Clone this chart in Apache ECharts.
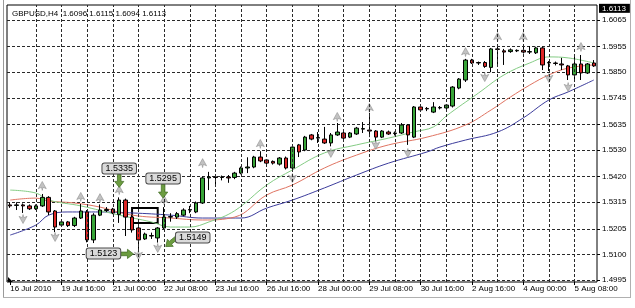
<!DOCTYPE html>
<html><head><meta charset="utf-8">
<script src="https://cdn.jsdelivr.net/npm/echarts@6.0.0/dist/echarts.min.js"></script>
<style>html,body{margin:0;padding:0;background:#fff}#c{width:635px;height:308px}</style>
</head><body><div id="c"></div>
<script>
const headerText = 'GBPUSD,H4  1.6096 1.6115 1.6094 1.6113';
const lastPrice = 1.6113;
const xLabels = ['16 Jul 2010','19 Jul 16:00','21 Jul 00:00','22 Jul 08:00','23 Jul 16:00','26 Jul 16:00','28 Jul 00:00','29 Jul 08:00','30 Jul 16:00','2 Aug 16:00','4 Aug 00:00','5 Aug 08:00'];
const yTicks = [1.4995,1.5100,1.5205,1.5315,1.5420,1.5530,1.5635,1.5745,1.5850,1.5955,1.6065];
const vGrid = [4,8,12,16,20,24,28,32,36,40,44,48,52,56,60,64,68,72,76,80,84,88];

const opens = [1.5304,1.5302,1.5304,1.5300,1.5288,1.5300,1.5335,1.5279,1.5221,1.5234,
1.5219,1.5250,1.5275,1.5160,1.5262,1.5281,1.5287,1.5265,1.5324,1.5254,
1.5209,1.5164,1.5176,1.5168,1.5209,1.5254,1.5254,1.5262,1.5283,1.5275,
1.5312,1.5415,1.5419,1.5417,1.5419,1.5417,1.5435,1.5456,1.5460,1.5501,
1.5489,1.5483,1.5472,1.5497,1.5456,1.5551,1.5530,1.5592,1.5579,1.5575,
1.5559,1.5592,1.5600,1.5583,1.5596,1.5616,1.5612,1.5608,1.5583,1.5604,
1.5598,1.5600,1.5633,1.5583,1.5707,1.5699,1.5686,1.5703,1.5703,1.5711,
1.5785,1.5818,1.5900,1.5890,1.5890,1.5870,1.5946,1.5938,1.5935,1.5938,
1.5940,1.5933,1.5930,1.5950,1.5888,1.5888,1.5884,1.5876,1.5839,1.5884,
1.5847,1.5888];
const closes = [1.5300,1.5304,1.5300,1.5288,1.5300,1.5335,1.5275,1.5213,1.5234,1.5219,
1.5250,1.5279,1.5160,1.5262,1.5283,1.5285,1.5271,1.5324,1.5254,1.5201,
1.5160,1.5184,1.5178,1.5209,1.5254,1.5256,1.5268,1.5283,1.5285,1.5312,
1.5415,1.5419,1.5417,1.5419,1.5415,1.5435,1.5456,1.5460,1.5501,1.5485,
1.5476,1.5476,1.5497,1.5456,1.5542,1.5522,1.5583,1.5575,1.5581,1.5559,
1.5592,1.5604,1.5579,1.5600,1.5620,1.5618,1.5608,1.5583,1.5608,1.5596,
1.5600,1.5633,1.5592,1.5707,1.5695,1.5701,1.5707,1.5705,1.5715,1.5789,
1.5822,1.5900,1.5888,1.5888,1.5874,1.5946,1.5944,1.5933,1.5942,1.5940,
1.5933,1.5935,1.5950,1.5880,1.5890,1.5886,1.5880,1.5839,1.5884,1.5847,
1.5884,1.5876];
const highs = [1.5312,1.5315,1.5310,1.5306,1.5306,1.5349,1.5340,1.5283,1.5240,1.5238,
1.5255,1.5308,1.5283,1.5270,1.5306,1.5295,1.5292,1.5335,1.5330,1.5262,
1.5215,1.5190,1.5190,1.5213,1.5295,1.5270,1.5275,1.5290,1.5300,1.5318,
1.5420,1.5440,1.5425,1.5425,1.5427,1.5440,1.5462,1.5500,1.5506,1.5525,
1.5493,1.5487,1.5501,1.5503,1.5546,1.5555,1.5588,1.5596,1.5604,1.5625,
1.5600,1.5641,1.5608,1.5604,1.5625,1.5645,1.5682,1.5612,1.5612,1.5610,
1.5606,1.5641,1.5637,1.5711,1.5711,1.5707,1.5727,1.5711,1.5719,1.5793,
1.5826,1.5905,1.5905,1.5894,1.5896,1.5950,1.5962,1.5946,1.5948,1.5944,
1.5962,1.5958,1.5955,1.5955,1.5896,1.5894,1.5909,1.5880,1.5913,1.5921,
1.5888,1.5900];
const lows = [1.5292,1.5283,1.5271,1.5283,1.5283,1.5296,1.5262,1.5192,1.5215,1.5213,
1.5213,1.5246,1.5150,1.5147,1.5258,1.5275,1.5266,1.5230,1.5176,1.5190,
1.5123,1.5160,1.5164,1.5149,1.5205,1.5235,1.5246,1.5258,1.5270,1.5270,
1.5308,1.5365,1.5380,1.5405,1.5395,1.5410,1.5430,1.5435,1.5455,1.5480,
1.5470,1.5470,1.5466,1.5450,1.5440,1.5501,1.5525,1.5570,1.5559,1.5555,
1.5545,1.5588,1.5573,1.5579,1.5592,1.5600,1.5583,1.5565,1.5579,1.5592,
1.5590,1.5596,1.5551,1.5579,1.5688,1.5690,1.5682,1.5697,1.5699,1.5705,
1.5780,1.5810,1.5884,1.5880,1.5868,1.5850,1.5880,1.5880,1.5930,1.5933,
1.5927,1.5925,1.5925,1.5859,1.5855,1.5878,1.5859,1.5818,1.5810,1.5818,
1.5843,1.5872];

const maFast = [[0,1.5365],[4,1.5353],[6,1.5324],[11,1.5300],[17,1.5262],[22,1.5234],[25,1.5213],[28,1.5213],[31,1.5234],[35,1.5280],[40,1.5386],[44,1.5448],[49,1.5518],[54,1.5551],[59,1.5579],[63,1.5605],[66,1.5625],[68,1.5670],[73,1.5764],[77,1.5839],[81,1.5888],[84,1.5913],[87,1.5909],[91,1.5888]];
const maMid = [[0,1.5324],[4,1.5332],[6,1.5320],[10,1.5312],[14,1.5295],[19,1.5262],[25,1.5250],[30,1.5242],[35,1.5254],[40,1.5345],[44,1.5386],[49,1.5456],[54,1.5509],[59,1.5551],[65,1.5583],[71,1.5633],[75,1.5695],[78,1.5748],[81,1.5797],[84,1.5839],[87,1.5867],[91,1.5880]];
const maSlow = [[0,1.5180],[4,1.5221],[6,1.5262],[9,1.5275],[14,1.5275],[19,1.5271],[25,1.5262],[30,1.5250],[36,1.5250],[40,1.5291],[44,1.5324],[49,1.5374],[54,1.5427],[59,1.5476],[65,1.5522],[67,1.5542],[71,1.5571],[76,1.5604],[80,1.5662],[84,1.5736],[87,1.5769],[91,1.5818]];

const fractalUp = [[5,1.5382],[11,1.5337],[14,1.5332],[17,1.5365],[24,1.5324],[30,1.5476],[39,1.5555],[51,1.5666],[56,1.5703],[71,1.5933],[76,1.5995],[80,1.5995],[89,1.5954]];
const fractalDown = [[2,1.5246],[7,1.5172],[20,1.5098],[23,1.5127],[44,1.5415],[50,1.5518],[57,1.5551],[62,1.5518],[74,1.5830],[84,1.5826],[87,1.5789]];

const calloutText = ['1.5335','1.5295','1.5149','1.5123'];
const calloutBar = [17,24,23,20];
const boxFrom = [19,1.5291], boxTo = [23,1.5230];

const categories = opens.map((_, i) => 'b' + i);
const FONT = 'Liberation Sans, Arial, sans-serif';

const chart = echarts.init(document.getElementById('c'), null, {renderer:'canvas'});
const dash = {type:[3,2], color:'#2a2a2a', width:1};
chart.setOption({
  animation:false,
  backgroundColor:'#fff',
  grid:{left:7, top:5, width:590, height:277, show:true, borderColor:'#000', borderWidth:1, backgroundColor:'#fff'},
  xAxis:{type:'category', data:categories, boundaryGap:true,
    axisLine:{show:false},
    axisTick:{show:true, interval:7, alignWithLabel:true, length:3, lineStyle:{color:'#000'}},
    axisLabel:{interval:7, align:'left', margin:3, fontSize:8, fontFamily:FONT, color:'#000',
      formatter:(v,i)=>xLabels[Math.round(i/8)] || ''},
    splitLine:{show:false}},
  yAxis:{type:'value', position:'right', min:1.49868, max:1.61267,
    axisLine:{show:false},
    axisTick:{show:true, length:3, customValues:yTicks, lineStyle:{color:'#000'}},
    axisLabel:{customValues:yTicks, formatter:v=>v.toFixed(4), fontSize:8, fontFamily:FONT, color:'#000', margin:5},
    splitLine:{show:true, lineStyle:dash}},
  series:[
    {type:'line', data:maSlow, smooth:0.4, showSymbol:false, lineStyle:{color:'#3c3c9c', width:1}, z:1,
     markLine:{silent:true, symbol:'none', label:{show:false}, lineStyle:dash, data:vGrid.map(i=>({xAxis:i}))}},
    {type:'line', data:maMid, smooth:0.4, showSymbol:false, lineStyle:{color:'#e07462', width:1}, z:1},
    {type:'line', data:maFast, smooth:0.4, showSymbol:false, lineStyle:{color:'#84cc84', width:1}, z:1},
    {type:'candlestick', data:opens.map((o,i)=>[o, closes[i], lows[i], highs[i]]), barWidth:4, z:3,
     itemStyle:{color:'#37a437', color0:'#dc2626', borderColor:'#000', borderColor0:'#000', borderColorDoji:'#000', borderWidth:1},
     markArea:{silent:true, itemStyle:{color:'rgba(0,0,0,0)', borderColor:'#000', borderWidth:2},
       data:[[{xAxis:boxFrom[0], yAxis:boxFrom[1]},{xAxis:boxTo[0], yAxis:boxTo[1]}]]}},
    {type:'scatter', data:fractalUp, symbol:'path://M5,0 L10,8 L6,6.5 L5,10 L4,6.5 L0,8 Z', symbolSize:[8,9], z:4,
     itemStyle:{color:'#b3b3b3', borderColor:'#7e7e7e', borderWidth:0.6}},
    {type:'scatter', data:fractalDown, symbol:'path://M5,10 L10,2 L6,3.5 L5,0 L4,3.5 L0,2 Z', symbolSize:[8,9], z:4,
     itemStyle:{color:'#b3b3b3', borderColor:'#7e7e7e', borderWidth:0.6}}
  ]
});

function P(i, v){ return chart.convertToPixel({gridIndex:0}, [i, v]); }
function arrow(t, h){
  const dx=h[0]-t[0], dy=h[1]-t[1], len=Math.hypot(dx,dy), ux=dx/len, uy=dy/len, nx=-uy, ny=ux;
  const s=1.8, w=4.6, L=6;
  const b=[h[0]-ux*L, h[1]-uy*L];
  return {type:'polygon', z:20, shape:{points:[
    [t[0]+nx*s,t[1]+ny*s],[b[0]+nx*s,b[1]+ny*s],[b[0]+nx*w,b[1]+ny*w],h,
    [b[0]-nx*w,b[1]-ny*w],[b[0]-nx*s,b[1]-ny*s],[t[0]-nx*s,t[1]-ny*s]]},
    style:{fill:'#6c9c40', stroke:'#47732b', lineWidth:0.8}};
}
// pixel offsets (style) for each callout: box centre, arrow tail, arrow tip relative to target
const layout = [
  {box:[0,-29], tail:[0,-23], tip:[0,-10]},
  {box:[-1,-28.5], tail:[-1,-23], tip:[-1,-9]},
  {box:[35,-5], tail:[19,-5], tip:[8,4]},
  {box:[-35,4.5], tail:[-19,5], tip:[-5,5]}
];
const g = [];
calloutText.forEach((txt, k) => {
  const p = P(calloutBar[k], parseFloat(txt));
  const L = layout[k];
  g.push(arrow([p[0]+L.tail[0], p[1]+L.tail[1]], [p[0]+L.tip[0], p[1]+L.tip[1]]));
  g.push({type:'text', z:21, x:p[0]+L.box[0], y:p[1]+L.box[1], style:{text:txt, align:'center', verticalAlign:'middle',
    font:'9px '+FONT, fill:'#000', backgroundColor:'#dadada', borderColor:'#4a4a4a', borderWidth:1, borderRadius:2, padding:[1,3,0,3]}});
});
const lp = P(0, lastPrice);
g.push({type:'text', z:21, x:599, y:lp[1], style:{text:lastPrice.toFixed(4), align:'left', verticalAlign:'middle',
  font:'8px '+FONT, fill:'#fff', backgroundColor:'#000', padding:[1,4,0,3]}});
g.push({type:'text', z:21, x:12, y:14, style:{text:headerText, align:'left', verticalAlign:'middle', font:'8px '+FONT, fill:'#000'}});
g.push({type:'polygon', z:21, shape:{points:[[8,282],[8,277],[13,282]]}, style:{fill:'#000'}});
g.push({type:'line', z:21, shape:{x1:3.5,y1:0,x2:3.5,y2:297}, style:{stroke:'#9a9a9a', lineWidth:1}});
g.push({type:'line', z:21, shape:{x1:630.5,y1:0,x2:630.5,y2:297}, style:{stroke:'#b0b0b0', lineWidth:1}});
g.push({type:'line', z:21, shape:{x1:3,y1:297.5,x2:631,y2:297.5}, style:{stroke:'#b0b0b0', lineWidth:1}});
chart.setOption({graphic:g});
</script></body></html>
